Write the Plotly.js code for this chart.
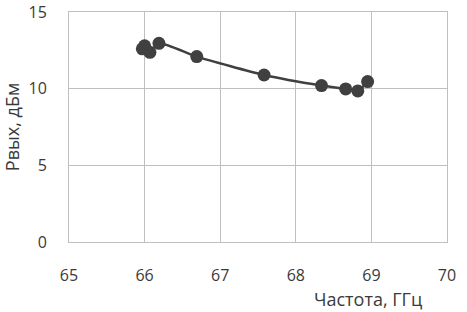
<!DOCTYPE html>
<html>
<head>
<meta charset="utf-8">
<script src="https://cdn.plot.ly/plotly-3.0.1.min.js"></script>
<style>html,body{margin:0;padding:0;background:#fff}#chart{width:467px;height:312px}</style>
</head>
<body>
<div id="chart"></div>
<script>
const freq = [65.97, 66.0, 66.07, 66.19, 66.69, 67.58, 68.34, 68.66, 68.82, 68.95];
const pout = [12.6, 12.8, 12.37, 12.96, 12.09, 10.89, 10.2, 9.98, 9.85, 10.46];
const xTicks = [65, 66, 67, 68, 69, 70];
const yTicks = [0, 5, 10, 15];
const xTitle = 'Частота, ГГц';
const yTitle = 'Pвых, дБм';

const fam = '"Open Sans", "Noto Sans", sans-serif';
const tickFont = {family: fam, size: 16, color: '#3a3a3a'};
const titleFont = {family: fam, size: 18, color: '#3a3a3a'};

Plotly.newPlot('chart', [{
  x: freq, y: pout,
  type: 'scatter', mode: 'lines+markers',
  line: {color: '#404040', width: 2.5, shape: 'spline', smoothing: 0.6},
  marker: {color: '#404040', size: 13}
}], {
  width: 467, height: 312,
  margin: {l: 69, r: 20, t: 12, b: 70},
  paper_bgcolor: '#fff', plot_bgcolor: '#fff',
  showlegend: false,
  font: tickFont,
  xaxis: {
    range: [65, 70], tickvals: xTicks, ticktext: xTicks.map(String),
    showgrid: true, gridcolor: '#bfbfbf', gridwidth: 1,
    zeroline: false, showline: true, linecolor: '#bfbfbf', mirror: true,
    ticks: 'outside', ticklen: 19, tickcolor: 'rgba(0,0,0,0)',
    tickfont: tickFont
  },
  yaxis: {
    range: [0, 15], tickvals: yTicks, ticktext: yTicks.map(String),
    showgrid: true, gridcolor: '#bfbfbf', gridwidth: 1,
    zeroline: false, showline: true, linecolor: '#bfbfbf', mirror: true,
    ticks: 'outside', ticklen: 18, tickcolor: 'rgba(0,0,0,0)',
    tickfont: tickFont,
    title: {text: yTitle, font: titleFont, standoff: 6}
  },
  annotations: [{
    text: xTitle, xref: 'paper', yref: 'paper',
    x: (368 - 69) / 378, y: -43 / 230, xanchor: 'center', yanchor: 'top',
    showarrow: false, font: titleFont
  }]
}, {staticPlot: true});
</script>
</body>
</html>
